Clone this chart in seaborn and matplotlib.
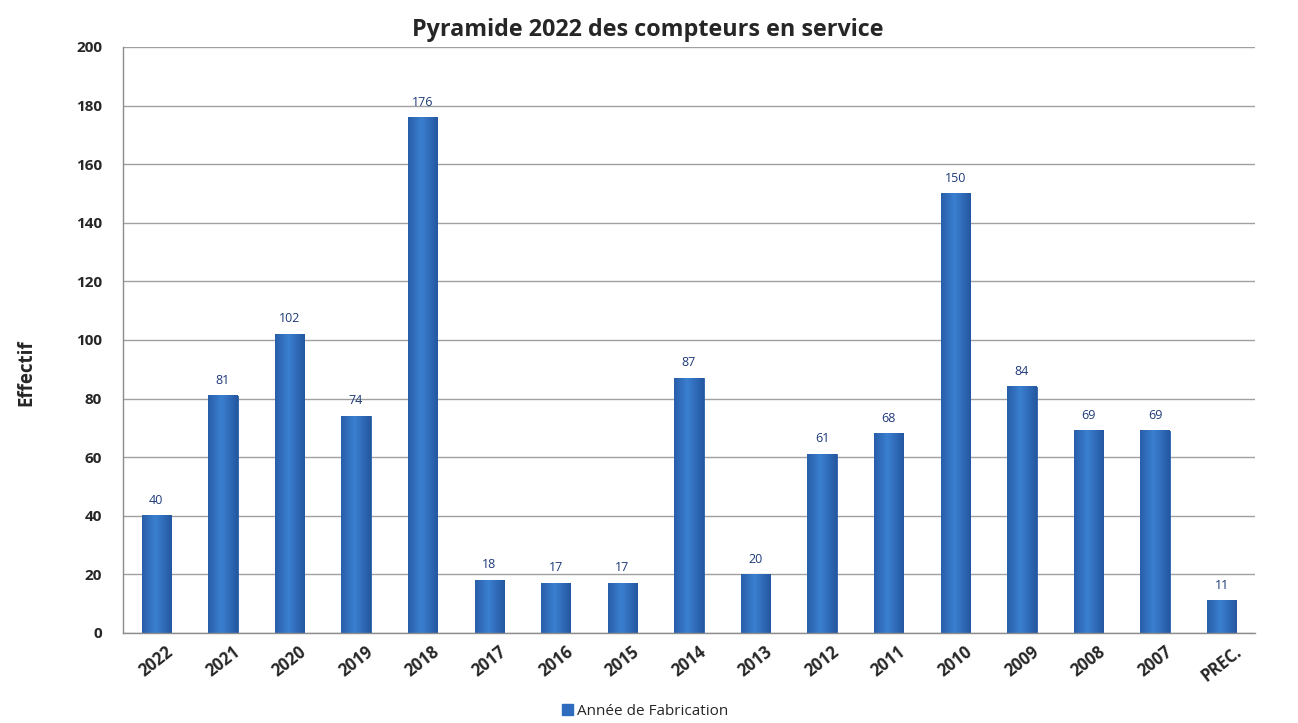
import matplotlib
matplotlib.use("Agg")
import matplotlib.pyplot as plt
import numpy as np
import pandas as pd
import seaborn as sns

# Chart data
categories = ['2022', '2021', '2020', '2019', '2018', '2017', '2016', '2015', '2014',
              '2013', '2012', '2011', '2010', '2009', '2008', '2007', 'PREC.']
values = [40, 81, 102, 74, 176, 18, 17, 17, 87, 20, 61, 68, 150, 84, 69, 69, 11]
series_name = "Année de Fabrication"
title = "Pyramide 2022 des compteurs en service"
y_label = "Effectif"

df = pd.DataFrame({'Annee': categories, 'Effectif': values})

sns.set_style("white")
plt.rcParams['font.family'] = ['Open Sans', 'DejaVu Sans']

fig = plt.figure(figsize=(12.98, 7.23), dpi=100)
ax = fig.add_axes([0.0948, 0.1245, 0.872, 0.8105])

bar_color = '#2E6CBF'
sns.barplot(data=df, x='Annee', y='Effectif', color=bar_color, width=0.44,
            saturation=1, ax=ax, label=series_name, edgecolor='#2A5FA8', linewidth=0.6,
            legend=False)

# soft horizontal gradient on each bar (Excel style)
cmap = matplotlib.colors.LinearSegmentedColormap.from_list('b', ['#2557A0', '#3A7FD0'])
for p in ax.patches:
    x0, w, h = p.get_x(), p.get_width(), p.get_height()
    grad = np.linspace(0, 1, 64).reshape(1, -1)
    grad = 1 - np.abs(grad - 0.45) * 2
    ax.imshow(grad, extent=[x0, x0 + w, 0, h], aspect='auto', cmap=cmap,
              zorder=p.get_zorder() + 0.1, clip_on=True)

ax.set_xlim(-0.5, len(categories) - 0.5)
ax.set_ylim(0, 200)
ax.set_yticks(range(0, 201, 20))

# value labels
for i, v in enumerate(values):
    ax.text(i, v + 3, str(v), ha='center', va='bottom', fontsize=9, color='#1F3A78')

ax.yaxis.grid(True, color='#a0a0a0', linewidth=1.0)
ax.set_axisbelow(True)
for s in ['top', 'right']:
    ax.spines[s].set_visible(False)
for s in ['left', 'bottom']:
    ax.spines[s].set_color('#8c8c8c')
    ax.spines[s].set_linewidth(1.0)

ax.set_xticks(np.arange(len(categories)))
ax.set_xticklabels(categories, rotation=38, ha='center', va='top',
                   fontsize=12, fontweight='bold')
ax.tick_params(axis='x', length=0, pad=7)
ax.set_xticks(np.arange(-0.5, len(categories)), minor=True)
ax.tick_params(axis='x', which='minor', length=5, color='#8c8c8c', direction='out')
ax.tick_params(axis='y', length=7, color='#8c8c8c', direction='out', labelsize=11, pad=8)
for lbl in ax.get_yticklabels():
    lbl.set_fontweight('bold')

ax.set_xlabel('')
ax.set_ylabel(y_label, fontsize=13.5, fontweight='bold')
ax.yaxis.set_label_coords(-0.077, 0.445)
ax.set_title(title, fontsize=16.8, fontweight='bold', pad=8, x=0.464)

handle = matplotlib.patches.Patch(facecolor=bar_color, edgecolor=bar_color, label=series_name)
fig.legend(handles=[handle], loc='center', bbox_to_anchor=(0.497, 0.016), frameon=False,
           fontsize=11, handlelength=0.7, handleheight=0.7, handletextpad=0.3,
           borderaxespad=0, borderpad=0)

fig.savefig("out.png", dpi=100)
